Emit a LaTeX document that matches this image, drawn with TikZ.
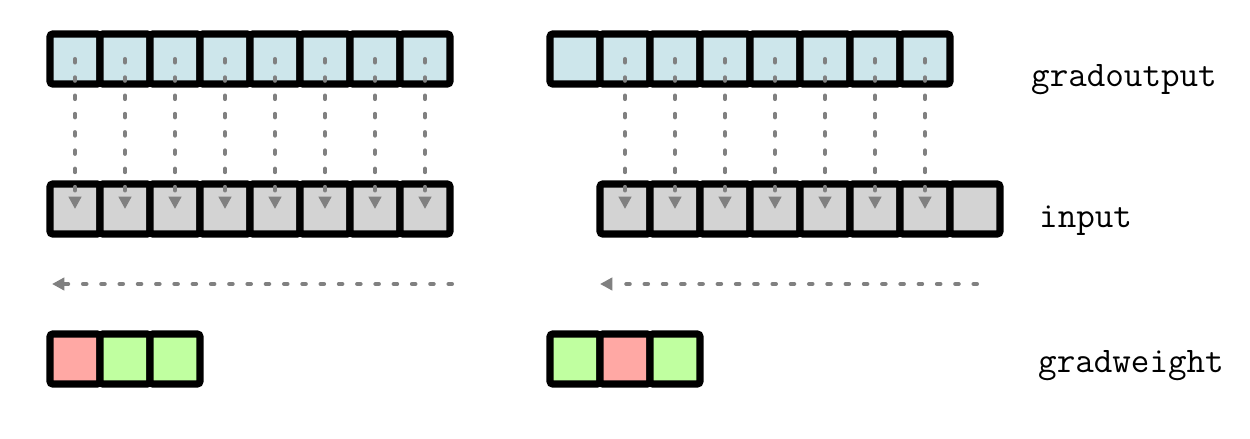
\documentclass[tikz,border=0pt]{standalone}
\usepackage{xcolor}
\usepackage{tikz}
\usetikzlibrary{arrows.meta, positioning}
\definecolor{CellBlue}{RGB}{205,230,235}
\definecolor{CellGray}{RGB}{211,211,211}
\definecolor{CellRed}{RGB}{255,168,164}
\definecolor{CellGreen}{RGB}{192,255,160}
\definecolor{DotGray}{RGB}{128,128,128}

\begin{document}
\begin{tikzpicture}[
  cell/.style={draw=black, line width=4pt, rounded corners=1.5pt,
               minimum size=1cm, inner sep=0pt, outer sep=0pt},
  flow/.style={DotGray, line width=2.3pt, line cap=round,
               dash pattern=on 2pt off 8.4pt,
               -{Triangle[length=7pt,width=7pt]}},
  lbl/.style={anchor=base west, font=\fontsize{20.5}{24}\selectfont\ttfamily}
]
\useasboundingbox (0,0) rectangle (25,-8.78);

\def\yo{-1.18}
\def\yi{-4.18}
\def\yw{-7.18}

% Left: gradoutput and input rows
\foreach \i in {1,...,8}{
  \pgfmathsetmacro\x{1.5+\i-1}
  \node[cell, fill=CellBlue] (lo\i) at (\x,\yo) {};
  \node[cell, fill=CellGray] (li\i) at (\x,\yi) {};
}

% Right: gradoutput row, input row shifted by one cell
\foreach \i in {1,...,8}{
  \pgfmathsetmacro\x{11.5+\i-1}
  \pgfmathsetmacro\xs{12.5+\i-1}
  \node[cell, fill=CellBlue] (ro\i) at (\x,\yo) {};
  \node[cell, fill=CellGray] (ri\i) at (\xs,\yi) {};
}

% gradweight rows
\node[cell, fill=CellRed]   (lw1) at (1.5,\yw) {};
\node[cell, fill=CellGreen] (lw2) at (2.5,\yw) {};
\node[cell, fill=CellGreen] (lw3) at (3.5,\yw) {};
\node[cell, fill=CellGreen] (rw1) at (11.5,\yw) {};
\node[cell, fill=CellRed]   (rw2) at (12.5,\yw) {};
\node[cell, fill=CellGreen] (rw3) at (13.5,\yw) {};

% Dotted connectors
\foreach \i in {1,...,8}{
  \draw[flow] (lo\i.center) -- (li\i.center);
}
\foreach \i [evaluate=\i as \j using int(\i-1)] in {2,...,8}{
  \draw[flow] (ro\i.center) -- (ri\j.center);
}

% Sweep arrows
\coordinate (lsweepA) at (9.04,-5.68);
\coordinate (lsweepB) at (1.04,-5.68);
\coordinate (rsweepA) at (19.54,-5.68);
\coordinate (rsweepB) at (12.0,-5.68);
\draw[flow] (lsweepA) -- (lsweepB);
\draw[flow] (rsweepA) -- (rsweepB);

% Row labels
\node[lbl] (tgo) at (20.5,-1.74) {gradoutput};
\node[lbl] (tin) at (20.66,-4.56) {input};
\node[lbl] (tgw) at (20.64,-7.44) {gradweight};

\end{tikzpicture}
\end{document}
